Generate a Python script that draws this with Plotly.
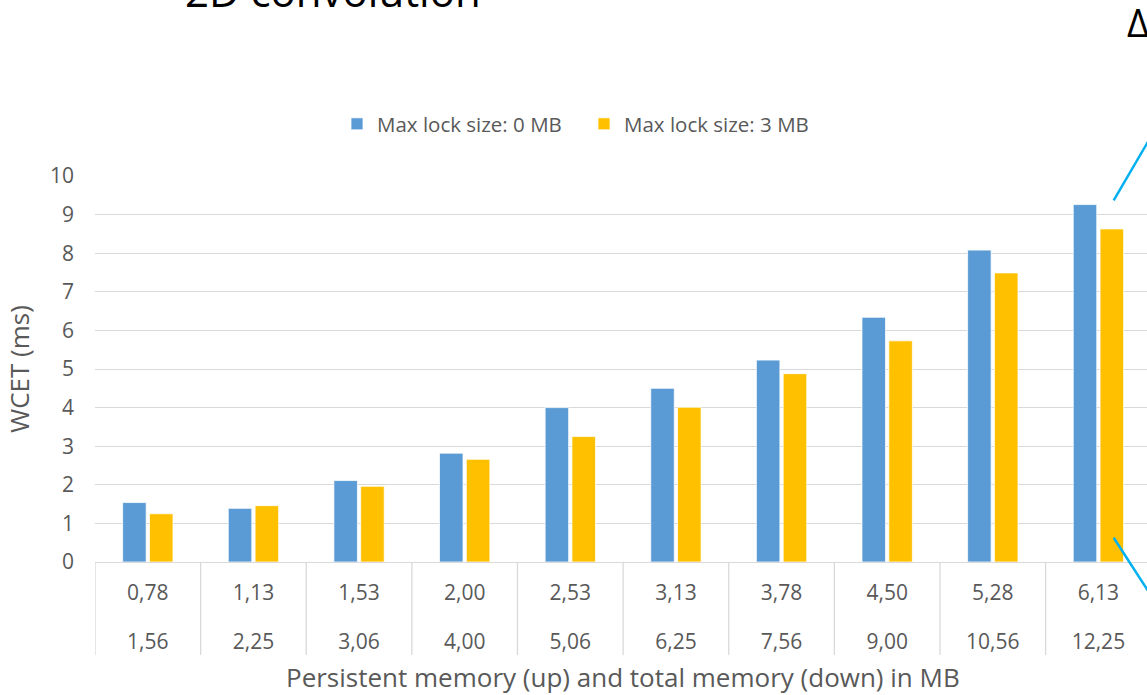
import plotly.graph_objects as go

# Memory configurations (persistent / total, MB) and measured WCET in ms
persistent_mb = ["0,78", "1,13", "1,53", "2,00", "2,53", "3,13", "3,78", "4,50", "5,28", "6,13"]
total_mb = ["1,56", "2,25", "3,06", "4,00", "5,06", "6,25", "7,56", "9,00", "10,56", "12,25"]
wcet_lock_0mb = [1.54, 1.39, 2.11, 2.82, 4.00, 4.50, 5.23, 6.34, 8.08, 9.26]
wcet_lock_3mb = [1.25, 1.46, 1.96, 2.66, 3.25, 4.01, 4.88, 5.73, 7.49, 8.63]
y_ticks = list(range(0, 11))

W, H = 1147, 695
ML, MR, MT, MB = 95, 0, 176, 133
PW, PH = W - ML - MR, H - MT - MB


def px(x):
    return (x - ML) / PW


def py(y):
    return (H - MB - y) / PH


FONT = "Open Sans"
GREY_TEXT = "#595959"
GRID = "#D9D9D9"

fig = go.Figure()
fig.add_trace(go.Bar(
    x=persistent_mb, y=wcet_lock_0mb, name="Max lock size: 0 MB",
    marker=dict(color="#5B9BD5", line=dict(color="white", width=0.75)),
))
fig.add_trace(go.Bar(
    x=persistent_mb, y=wcet_lock_3mb, name="Max lock size: 3 MB",
    marker=dict(color="#FFC000", line=dict(color="white", width=0.75)),
))
# invisible carrier for the second label row (total memory)
fig.add_trace(go.Scatter(
    x=list(range(len(total_mb))), y=[0] * len(total_mb), xaxis="x2",
    mode="markers", marker=dict(opacity=0), showlegend=False, hoverinfo="skip",
))

x_range = [-0.5, 9.46]

shapes = []
# table dividers between the category columns
for i in range(len(persistent_mb) + 1):
    shapes.append(dict(
        type="line", xref="x", yref="paper", x0=i - 0.5, x1=i - 0.5,
        y0=0, y1=py(655), line=dict(color=GRID, width=1.3), layer="above",
    ))
# callout lines at the right edge
shapes.append(dict(type="line", xref="paper", yref="paper",
                   x0=px(1113.7), y0=py(200.3), x1=px(1165), y1=py(112.6),
                   line=dict(color="#00B0F0", width=2.5)))
shapes.append(dict(type="line", xref="paper", yref="paper",
                   x0=px(1113.7), y0=py(537.7), x1=px(1165), y1=py(617.2),
                   line=dict(color="#00B0F0", width=2.5)))

annotations = [
    dict(text="2D convolution", xref="paper", yref="paper", x=px(183), y=py(21),
         xanchor="left", yanchor="bottom", showarrow=False,
         font=dict(family=FONT, size=42, color="black")),
    dict(text="Δ", xref="paper", yref="paper", x=px(1125), y=py(50),
         xanchor="left", yanchor="bottom", showarrow=False,
         font=dict(family=FONT, size=38, color="black")),
    dict(text="Persistent memory (up) and total memory (down) in MB",
         xref="paper", yref="paper", x=px(622.5), y=py(677),
         xanchor="center", yanchor="middle", showarrow=False,
         font=dict(family=FONT, size=26, color=GREY_TEXT)),
]

fig.update_layout(
    width=W, height=H,
    margin=dict(l=ML, r=MR, t=MT, b=MB),
    paper_bgcolor="white", plot_bgcolor="white",
    font=dict(family=FONT, color=GREY_TEXT),
    barmode="group", bargap=0.492, bargroupgap=0.123,
    showlegend=True,
    legend=dict(orientation="h", x=px(584), y=py(124), xanchor="center", yanchor="middle",
                font=dict(family=FONT, size=20.5, color=GREY_TEXT),
                entrywidth=202, bgcolor="rgba(0,0,0,0)"),
    xaxis=dict(type="category", range=x_range, showgrid=False, zeroline=False,
               showline=True, linecolor=GRID, linewidth=1.3, ticks="",
               tickfont=dict(family=FONT, size=21, color=GREY_TEXT),
               ticklabelstandoff=12, fixedrange=True),
    xaxis2=dict(overlaying="x", side="bottom", anchor="y", range=x_range,
                tickmode="array", tickvals=list(range(len(total_mb))), ticktext=total_mb,
                showgrid=False, zeroline=False, showline=False, ticks="",
                tickfont=dict(family=FONT, size=21, color=GREY_TEXT),
                ticklabelstandoff=65, fixedrange=True),
    yaxis=dict(range=[0, 10], tickvals=y_ticks, showgrid=True, gridcolor=GRID,
               gridwidth=1.3, zeroline=False, showline=False, ticks="",
               tickfont=dict(family=FONT, size=21, color=GREY_TEXT),
               ticklabelstandoff=20,
               title=dict(text="WCET (ms)", font=dict(family=FONT, size=26, color=GREY_TEXT),
                          standoff=12),
               fixedrange=True),
    shapes=shapes,
    annotations=annotations,
)

fig.write_html("out.html", config={"displayModeBar": False})
